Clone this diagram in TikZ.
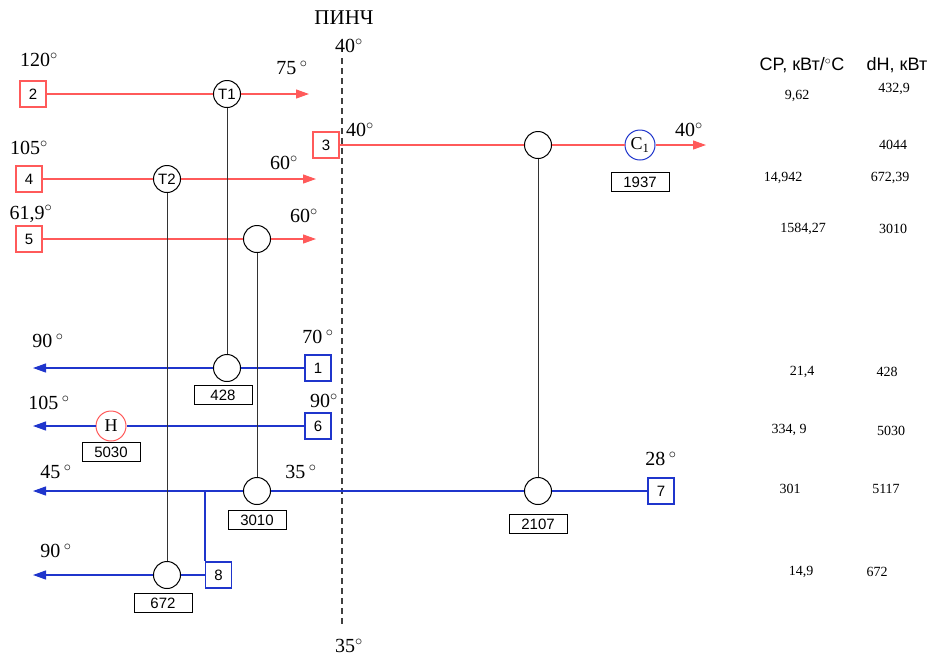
\documentclass[tikz,border=0pt]{standalone}
\usepackage{fontspec}
\setmainfont{Liberation Serif}
\setsansfont{Liberation Sans}
\usetikzlibrary{arrows.meta}
\definecolor{hot}{HTML}{FF5A5A}
\definecolor{cold}{HTML}{1F35CC}
\newcommand\mydeg{\ensuremath{^{\circ}}}
\begin{document}
\begin{tikzpicture}[x=1pt,y=-1pt,
  hotline/.style={draw=hot, line width=1.2pt},
  coldline/.style={draw=cold, line width=1.2pt},
  hotarrow/.style={hotline, -{Triangle[length=13pt,width=9pt]}},
  coldarrow/.style={coldline, -{Triangle[length=13pt,width=9pt]}},
  hotbox/.style={draw=hot, line width=1.2pt, fill=white, minimum size=26pt, inner sep=0pt, font=\sffamily\fontsize{15}{15}\selectfont},
  coldbox/.style={draw=cold, line width=1.2pt, fill=white, minimum size=26pt, inner sep=0pt, font=\sffamily\fontsize{15}{15}\selectfont},
  hx/.style={circle, draw=black, fill=white, line width=1pt, minimum size=27pt, inner sep=0pt, font=\sffamily\fontsize{15}{15}\selectfont},
  load/.style={draw=black, line width=1pt, minimum width=58pt, minimum height=19pt, inner sep=0pt, font=\sffamily\fontsize{15}{15}\selectfont},
  link/.style={draw=black!80, line width=0.9pt},
  temp/.style={font=\fontsize{20}{20}\selectfont, inner sep=0pt},
  tab/.style={font=\fontsize{14}{14}\selectfont, inner sep=0pt},
]
\useasboundingbox (0,0) rectangle (927,657);

% pinch
\node[font=\fontsize{21}{21}\selectfont, inner sep=0pt] (pinch) at (344,18) {ПИНЧ};
\node[temp] (p40) at (349,46) {40\mydeg};
\node[temp] (p35) at (349,646) {35\mydeg};
\coordinate (ptop) at (342,58);
\coordinate (pbot) at (342,625);
\draw[black!75, line width=1.4pt, dash pattern=on 6pt off 4pt] (ptop) -- (pbot);

% hot stream 2
\node[hotbox] (s2) at (33,94) {2};
\node[hx] (T1) at (227,94) {T1};
\coordinate (e2) at (309,94);
\draw[hotline] (s2) -- (T1);
\draw[hotarrow] (T1) -- (e2);
\node[temp] (t2a) at (39,60) {120\mydeg};
\node[temp] (t2b) at (292,68) {75\,\mydeg};

% hot stream 3
\node[hotbox] (s3) at (326,145) {3};
\node[hx] (h3) at (538,145) {};
\node[circle, draw=cold, fill=white, line width=1pt, minimum size=30pt, inner sep=0pt, font=\fontsize{18}{18}\selectfont] (C1) at (640,145) {C\textsubscript{1}};
\coordinate (e3) at (706,145);
\draw[hotline] (s3) -- (h3);
\draw[hotline] (h3) -- (C1);
\draw[hotarrow] (C1) -- (e3);
\node[load] (l1937) at (640,182) {1937};
\node[temp] (t3a) at (360,130) {40\mydeg};
\node[temp] (t3b) at (689,130) {40\mydeg};

% hot stream 4
\node[hotbox] (s4) at (29,179) {4};
\node[hx] (T2) at (167,179) {T2};
\coordinate (e4) at (316,179);
\draw[hotline] (s4) -- (T2);
\draw[hotarrow] (T2) -- (e4);
\node[temp] (t4a) at (29,148) {105\mydeg};
\node[temp] (t4b) at (284,163) {60\mydeg};

% hot stream 5
\node[hotbox] (s5) at (29,239) {5};
\node[hx] (h5) at (257,239) {};
\coordinate (e5) at (316,239);
\draw[hotline] (s5) -- (h5);
\draw[hotarrow] (h5) -- (e5);
\node[temp] (t5a) at (31,214) {61,9\mydeg};
\node[temp] (t5b) at (304,216) {60\mydeg};

% cold stream 1
\node[coldbox] (s1) at (318,368) {1};
\node[hx] (c1) at (227,368) {};
\coordinate (e1) at (33,368);
\draw[coldline] (s1) -- (c1);
\draw[coldarrow] (c1) -- (e1);
\node[load] (l428) at (223,395) {428};
\node[temp] (t1a) at (48,341) {90\,\mydeg};
\node[temp] (t1b) at (318,337) {70\,\mydeg};

% cold stream 6
\node[coldbox] (s6) at (318,426) {6};
\node[circle, draw=hot, fill=white, line width=1pt, minimum size=30pt, inner sep=0pt, font=\fontsize{18}{18}\selectfont] (H) at (111,426) {H};
\coordinate (e6) at (33,426);
\draw[coldline] (s6) -- (H);
\draw[coldarrow] (H) -- (e6);
\node[load] (l5030) at (111,452) {5030};
\node[temp] (t6a) at (49,403) {105\,\mydeg};
\node[temp] (t6b) at (324,401) {90\mydeg};

% cold stream 7
\node[coldbox] (s7) at (661,491) {7};
\node[hx] (c7b) at (538,491) {};
\node[hx] (c7a) at (257,491) {};
\coordinate (br) at (205,491);
\coordinate (e7) at (33,491);
\draw[coldline] (s7) -- (c7b);
\draw[coldline] (c7b) -- (c7a);
\draw[coldline] (c7a) -- (br);
\draw[coldarrow] (br) -- (e7);
\node[load] (l3010) at (257,520) {3010};
\node[load] (l2107) at (538,524) {2107};
\node[temp] (t7a) at (56,472) {45\,\mydeg};
\node[temp] (t7b) at (301,472) {35\,\mydeg};
\node[temp] (t7c) at (661,459) {28\,\mydeg};

% cold stream 8
\node[coldbox, anchor=west] (s8) at (205,575) {8};
\node[hx] (c8) at (167,575) {};
\coordinate (e8) at (33,575);
\draw[coldline] (br) -- (s8.north west);
\draw[coldline] (s8) -- (c8);
\draw[coldarrow] (c8) -- (e8);
\node[load] (l672) at (163,603) {672};
\node[temp] (t8a) at (56,551) {90\,\mydeg};

% matches
\draw[link] (T1) -- (c1);
\draw[link] (T2) -- (c8);
\draw[link] (h5) -- (c7a);
\draw[link] (h3) -- (c7b);

% table
\node[font=\sffamily\fontsize{18}{18}\selectfont, inner sep=0pt] (hcp) at (802,65) {CP, кВт/\mydeg C};
\node[font=\sffamily\fontsize{18}{18}\selectfont, inner sep=0pt] (hdh) at (897,65) {dH, кВт};
\node[tab] (a1) at (797,96) {9,62};
\node[tab] (b1) at (894,89) {432,9};
\node[tab] (b2) at (893,145) {4044};
\node[tab] (a3) at (783,178) {14,942};
\node[tab] (b3) at (890,178) {672,39};
\node[tab] (a4) at (803,229) {1584,27};
\node[tab] (b4) at (893,229) {3010};
\node[tab] (a5) at (802,372) {21,4};
\node[tab] (b5) at (887,372) {428};
\node[tab] (a6) at (789,430) {334, 9};
\node[tab] (b6) at (891,431) {5030};
\node[tab] (a7) at (790,489) {301};
\node[tab] (b7) at (886,489) {5117};
\node[tab] (a8) at (801,572) {14,9};
\node[tab] (b8) at (877,572) {672};
\end{tikzpicture}
\end{document}
